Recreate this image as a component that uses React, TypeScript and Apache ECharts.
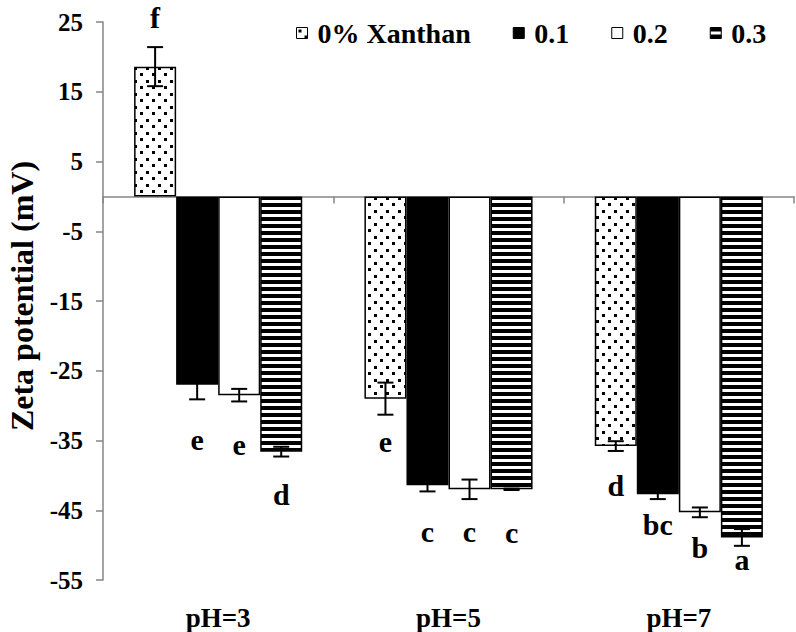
import React, { useEffect, useRef } from 'react';
import * as echarts from 'echarts';

const categories = ['pH=3', 'pH=5', 'pH=7'];
const seriesNames = ['0% Xanthan', '0.1', '0.2', '0.3'];
const values0 = [18.6, -29.0, -35.8];
const values1 = [-27.0, -41.4, -42.7];
const values2 = [-28.5, -42.0, -45.3];
const values3 = [-36.6, -42.0, -48.9];
const errors0 = [2.8, 2.3, 0.7];
const errors1 = [2.1, 0.9, 0.7];
const errors2 = [0.9, 1.4, 0.7];
const errors3 = [0.7, 0.1, 1.2];
const letters0 = ['f', 'e', 'd'];
const letters1 = ['e', 'c', 'bc'];
const letters2 = ['e', 'c', 'b'];
const letters3 = ['d', 'c', 'a'];
const letterPos0 = [25.7, -35.1, -41.4];
const letterPos1 = [-34.8, -48.0, -47.0];
const letterPos2 = [-35.6, -48.0, -50.3];
const letterPos3 = [-42.7, -48.2, -52.0];
const yTicks = [-55, -45, -35, -25, -15, -5, 5, 15, 25];

const FONT = 'Liberation Serif';
const AXIS_COLOR = '#868686';
const GAP = 0.27;

function makePattern(kind: string): any {
  const c = document.createElement('canvas');
  const ctx = c.getContext('2d')!;
  if (kind === 'dots') {
    c.width = 12;
    c.height = 13;
    ctx.fillStyle = '#fff';
    ctx.fillRect(0, 0, 12, 13);
    ctx.fillStyle = '#000';
    ctx.fillRect(2, 2, 3, 3);
    ctx.fillRect(8, 8, 3, 3);
  } else {
    c.width = 8;
    c.height = 7;
    ctx.fillStyle = '#fff';
    ctx.fillRect(0, 0, 8, 7);
    ctx.fillStyle = '#000';
    ctx.fillRect(0, 0, 8, 4);
  }
  return { image: c, repeat: 'repeat' };
}

export default function App() {
  const ref = useRef<HTMLDivElement>(null);
  useEffect(() => {
    if (!ref.current) return;
    const chart = echarts.init(ref.current, undefined, { renderer: 'svg' });
    const values = [values0, values1, values2, values3];
    const errors = [errors0, errors1, errors2, errors3];
    const letters = [letters0, letters1, letters2, letters3];
    const letterPos = [letterPos0, letterPos1, letterPos2, letterPos3];
    const fills = [makePattern('dots'), '#000', '#fff', makePattern('stripes')];

    const barSeries = seriesNames.map((name, s) => ({
      name,
      type: 'bar',
      xAxisIndex: 0,
      barGap: '0%',
      barCategoryGap: GAP * 100 + '%',
      data: values[s],
      itemStyle: { color: fills[s], borderColor: '#000', borderWidth: 1.5 },
      z: 2,
    }));

    const offsetX = (api: any, ci: number, s: number) => {
      const band = api.size([1, 0])[0];
      const bw = (band * (1 - GAP)) / 4;
      return api.coord([ci, 0])[0] + (s - 1.5) * bw;
    };

    const errSeries = seriesNames.map((name, s) => ({
      name: name + '-err',
      type: 'custom',
      xAxisIndex: 0,
      z: 5,
      data: values[s].map((v, i) => [i, v, errors[s][i]]),
      renderItem: (params: any, api: any) => {
        const ci = api.value(0);
        const v = api.value(1);
        const e = api.value(2);
        const cx = offsetX(api, ci, s);
        const top = api.coord([ci, v + e])[1];
        const bot = api.coord([ci, v - e])[1];
        const st = { stroke: '#000', lineWidth: 2 };
        const hw = 8;
        return {
          type: 'group',
          children: [
            { type: 'line', shape: { x1: cx, y1: top, x2: cx, y2: bot }, style: st },
            { type: 'line', shape: { x1: cx - hw, y1: top, x2: cx + hw, y2: top }, style: st },
            { type: 'line', shape: { x1: cx - hw, y1: bot, x2: cx + hw, y2: bot }, style: st },
          ],
        };
      },
    }));

    const letterSeries = seriesNames.map((name, s) => ({
      name: name + '-letter',
      type: 'custom',
      xAxisIndex: 0,
      z: 6,
      data: letterPos[s].map((p, i) => [i, p]),
      renderItem: (params: any, api: any) => {
        const ci = api.value(0);
        const p = api.value(1);
        const cx = offsetX(api, ci, s);
        const cy = api.coord([ci, p])[1];
        return {
          type: 'text',
          x: cx,
          y: cy,
          style: {
            text: letters[s][params.dataIndex],
            fontFamily: FONT,
            fontWeight: 'bold',
            fontSize: 30,
            fill: '#000',
            align: 'center',
            verticalAlign: 'middle',
          },
        };
      },
    }));

    chart.setOption({
      animation: false,
      backgroundColor: '#fff',
      textStyle: { fontFamily: FONT },
      grid: { left: 103, right: 2, top: 22, bottom: 52, containLabel: false },
      legend: {
        data: seriesNames,
        left: 291,
        top: 14,
        icon: 'rect',
        itemWidth: 11,
        itemHeight: 11,
        itemGap: 42,
        selectedMode: false,
        itemStyle: { borderColor: '#000', borderWidth: 1 },
        textStyle: {
          fontFamily: FONT,
          fontWeight: 'bold',
          fontSize: 28,
          color: '#000',
          padding: [0, 0, 0, 5],
        },
      },
      xAxis: [
        {
          type: 'category',
          data: categories,
          axisLine: { show: true, onZero: true, lineStyle: { color: AXIS_COLOR, width: 1.5 } },
          axisTick: { show: true, length: 7, lineStyle: { color: AXIS_COLOR, width: 1.5 } },
          axisLabel: { show: false },
          splitLine: { show: false },
        },
        {
          type: 'category',
          data: categories,
          position: 'bottom',
          axisLine: { show: false, onZero: false },
          axisTick: { show: false },
          axisLabel: {
            show: true,
            margin: 24,
            fontFamily: FONT,
            fontWeight: 'bold',
            fontSize: 27,
            color: '#000',
          },
          splitLine: { show: false },
        },
      ],
      yAxis: {
        type: 'value',
        min: -55,
        max: 25,
        axisLine: { show: true, lineStyle: { color: AXIS_COLOR, width: 1.5 } },
        axisTick: { show: true, length: 7, customValues: yTicks, lineStyle: { color: AXIS_COLOR, width: 1.5 } },
        axisLabel: {
          customValues: yTicks,
          margin: 20,
          fontFamily: FONT,
          fontWeight: 'bold',
          fontSize: 25,
          color: '#000',
        },
        splitLine: { show: false },
      },
      graphic: [
        {
          type: 'text',
          x: 22,
          y: 296,
          rotation: Math.PI / 2,
          style: {
            text: 'Zeta potential (mV)',
            fontFamily: FONT,
            fontWeight: 'bold',
            fontSize: 32,
            fill: '#000',
            align: 'center',
            verticalAlign: 'middle',
          },
        },
      ],
      series: [...barSeries, ...errSeries, ...letterSeries],
    });
    return () => chart.dispose();
  }, []);
  return (
    <div
      ref={ref}
      style={{ position: 'fixed', left: 0, top: 0, width: 796, height: 632, background: '#fff' }}
    />
  );
}
